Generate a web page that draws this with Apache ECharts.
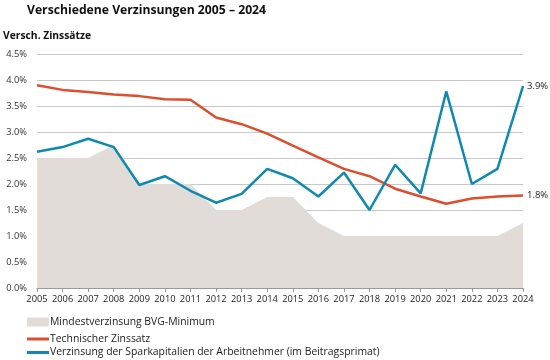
<!DOCTYPE html>
<html><head><meta charset="utf-8">
<script src="https://cdn.jsdelivr.net/npm/echarts@6/dist/echarts.min.js"></script>
<style>html,body{margin:0;padding:0;background:#fff}#c{width:550px;height:360px}</style>
</head><body><div id="c"></div>
<script>
const years = ['2005','2006','2007','2008','2009','2010','2011','2012','2013','2014','2015','2016','2017','2018','2019','2020','2021','2022','2023','2024'];
const bvgMin = [2.5,2.5,2.5,2.75,2.0,2.0,2.0,1.5,1.5,1.75,1.75,1.25,1.0,1.0,1.0,1.0,1.0,1.0,1.0,1.25];
const techZins = [3.9,3.81,3.77,3.72,3.69,3.63,3.62,3.28,3.15,2.97,2.74,2.51,2.29,2.15,1.91,1.76,1.62,1.72,1.76,1.78];
const sparZins = [2.62,2.71,2.87,2.71,1.98,2.15,1.87,1.64,1.81,2.29,2.11,1.76,2.22,1.5,2.37,1.82,3.78,2.0,2.29,3.88];
const yTicks = [0,0.5,1,1.5,2,2.5,3,3.5,4,4.5];
const names = ['Mindestverzinsung BVG-Minimum','Technischer Zinssatz','Verzinsung der Sparkapitalien der Arbeitnehmer (im Beitragsprimat)'];

const font = '"Open Sans", "Noto Sans", sans-serif';
const legendText = {fontFamily: font, fontSize: 10.4, color: '#222', padding: [0,0,0,-4]};
const chart = echarts.init(document.getElementById('c'));
chart.setOption({
  animation: false,
  textStyle: {fontFamily: font},
  title: [
    {text: 'Verschiedene Verzinsungen 2005 – 2024', left: 27, top: 5, padding: 0, textStyle: {fontFamily: font, fontSize: 12.2, fontWeight: 'bold', color: '#111'}},
    {text: 'Versch. Zinssätze', left: 3, top: 31, padding: 0, textStyle: {fontFamily: font, fontSize: 10.3, fontWeight: 'bold', color: '#111'}}
  ],
  grid: {left: 37, right: 27, top: 54, bottom: 72},
  legend: [
    {orient: 'vertical', left: 27, top: 317, padding: 0, itemWidth: 22, itemHeight: 9,
     textStyle: legendText, data: [{name: names[0], icon: 'rect'}]},
    {orient: 'vertical', left: 27, top: 334, padding: 0, itemWidth: 22, itemHeight: 3, itemGap: 3.5,
     textStyle: legendText, data: [{name: names[1], icon: 'rect'}, {name: names[2], icon: 'rect'}]}
  ],
  xAxis: {
    type: 'category', data: years, boundaryGap: false,
    axisLine: {lineStyle: {color: '#999'}},
    axisTick: {show: true, lineStyle: {color: '#999'}, length: 4},
    axisLabel: {interval: 0, fontFamily: font, fontSize: 9.3, color: '#222', margin: 7},
    splitLine: {show: false}
  },
  yAxis: {
    type: 'value', min: yTicks[0], max: yTicks[yTicks.length-1], interval: 0.5,
    axisLine: {show: false}, axisTick: {show: false},
    axisLabel: {fontFamily: font, fontSize: 9.3, color: '#333', margin: 10, formatter: v => v.toFixed(1) + '%'},
    splitLine: {lineStyle: {color: '#c8c8c8', width: 1}}
  },
  series: [
    {name: names[0], type: 'line', data: bvgMin, symbol: 'none', smooth: false,
     lineStyle: {width: 0, color: '#e2dcd9'}, itemStyle: {color: '#e2dcd9'},
     areaStyle: {color: '#e2dcd9', opacity: 1}, z: 1},
    {name: names[1], type: 'line', data: techZins, symbol: 'none',
     lineStyle: {width: 2.5, color: '#dd4f2c'}, itemStyle: {color: '#dd4f2c'}, z: 3,
     endLabel: {show: true, formatter: p => p.value.toFixed(1) + '%', fontFamily: font, fontSize: 9.5, color: '#222', distance: 4}},
    {name: names[2], type: 'line', data: sparZins, symbol: 'none',
     lineStyle: {width: 2.5, color: '#0f89af'}, itemStyle: {color: '#0f89af'}, z: 4,
     endLabel: {show: true, formatter: p => p.value.toFixed(1) + '%', fontFamily: font, fontSize: 9.5, color: '#222', distance: 4}}
  ]
});
</script></body></html>
